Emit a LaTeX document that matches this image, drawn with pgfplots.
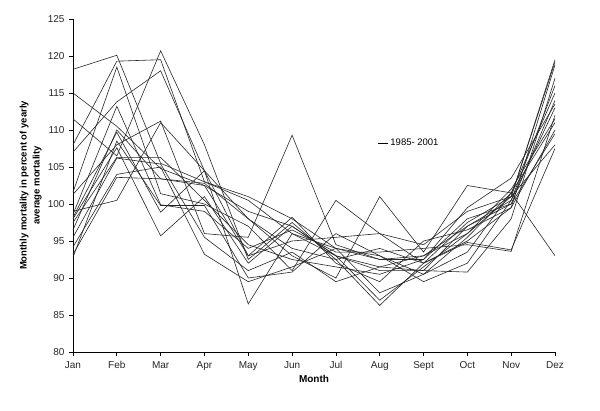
\documentclass[border=0pt]{standalone}
\usepackage{pgfplots}
\usepackage{pgfplotstable}
\pgfplotsset{compat=1.18}
\usepackage{fontspec}
\setmainfont{Liberation Sans}
\pgfplotstableread{
m  a     b     c     d     e     f     g     h     i     j     k     l     n     o     p     q     r
0  118.2 115.0 111.5 108.0 107.0 101.6 101.3 99.0  98.6  98.2  98.0  97.5  96.5  95.5  94.2  93.2  92.8
1  120.1 110.5 106.5 119.3 113.8 118.5 108.0 100.5 113.2 109.7 107.6 106.3 110.0 106.2 104.0 103.6 108.5
2  105.5 104.8 120.7 119.5 118.0 101.4 111.2 111.0 99.9  98.9  95.7  106.3 103.4 105.4 105.0 103.4 99.8
3  103.0 102.5 108.0 103.0 104.5 100.0 96.0  104.5 99.0  104.5 101.0 100.5 102.5 95.5  93.2  102.8 99.8
4  100.5 99.0  92.5  101.0 93.0  97.0  95.5  98.0  94.0  86.5  92.0  94.5  93.0  91.0  89.5  98.0  90.0
5  96.0  97.0  97.5  98.0  95.0  91.0  109.3 93.0  96.5  96.0  97.0  92.5  98.2  93.5  91.5  94.0  90.8
6  94.0  93.0  92.5  94.0  95.5  100.5 94.5  90.0  93.5  93.0  93.0  91.5  92.0  89.5  94.0  92.5  96.0
7  92.5  91.0  94.0  93.0  96.0  96.0  92.5  101.0 93.5  91.5  87.0  90.5  89.5  91.5  88.0  86.3  93.0
8  93.0  91.0  92.0  90.5  94.5  92.0  92.5  93.5  94.0  91.0  91.5  92.5  95.0  93.0  90.5  92.0  89.5
9  96.0  97.0  95.0  95.5  99.0  97.5  98.0  102.5 94.5  90.8  96.0  99.5  96.5  97.0  93.5  94.8  92.0
10 101.0 100.5 99.5  101.5 101.0 101.0 100.0 101.5 93.6  98.0  102.0 103.5 99.5  100.0 101.5 93.8  100.5
11 119.5 113.0 110.0 115.0 108.0 119.2 114.0 93.0  112.0 117.0 111.5 113.5 118.8 109.5 111.0 107.5 116.0
}\mort
\begin{document}
\begin{tikzpicture}
\useasboundingbox (-73pt,-58pt) rectangle (527pt,352pt);
\begin{axis}[
  at={(0pt,0pt)}, anchor=south west,
  scale only axis, width=482pt, height=333pt,
  xmin=0, xmax=11, ymin=80, ymax=125,
  xtick={0,...,11},
  xticklabels={Jan,Feb,Mar,Apr,May,Jun,Jul,Aug,Sept,Oct,Nov,Dez},
  ytick={80,85,...,125},
  axis lines=left,
  axis line style={-, line width=0.8pt},
  tick style={line width=0.8pt, black},
  tick align=outside,
  major tick length=4pt,
  tick label style={font=\fontsize{10}{11}\selectfont, color=black!85},
  /pgf/number format/assume math mode=true,
  xticklabel style={yshift=-2pt},
  yticklabel style={xshift=-1pt},
  xlabel={\bfseries Month},
  xlabel style={font=\fontsize{10}{11}\selectfont, yshift=2pt},
  ylabel={\bfseries\begin{tabular}{c}Monthly mortality in percent of yearly\\[2pt]average mortality\end{tabular}},
  ylabel style={font=\fontsize{9.5}{11}\selectfont, yshift=-2pt},
  legend style={at={(axis cs:6.95,108.2)}, anchor=west, draw=none, fill=none,
    font=\fontsize{9.5}{11}\selectfont, inner sep=0pt},
  legend image code/.code={\draw[black, line width=0.7pt] (0pt,0pt) -- (10pt,0pt);},
  legend cell align=left,
]
\addplot[black!85, line width=0.6pt] table[x=m, y=a] {\mort};
\addlegendentry{1985- 2001}
\pgfplotsinvokeforeach{b,c,d,e,f,g,h,i,j,k,l,n,o,p,q,r}{
  \addplot[black!85, line width=0.6pt, forget plot] table[x=m, y=#1] {\mort};
}
\end{axis}
\end{tikzpicture}
\end{document}
